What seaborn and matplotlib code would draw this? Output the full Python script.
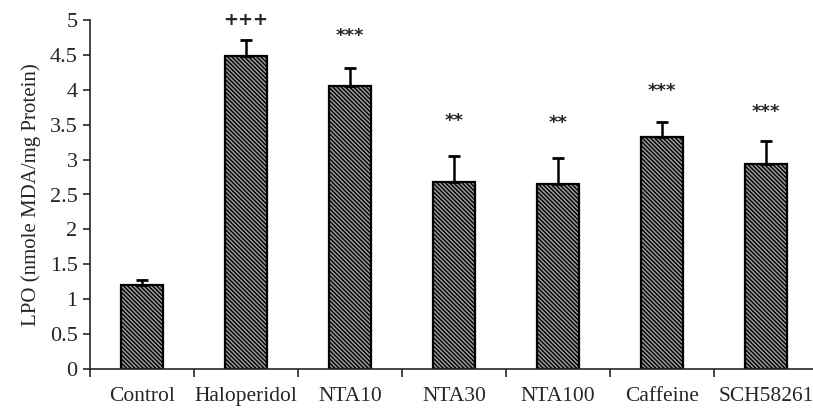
import matplotlib
matplotlib.use('Agg')
import matplotlib.pyplot as plt
import seaborn as sns
import numpy as np

groups = ['Control', 'Haloperidol', 'NTA10', 'NTA30', 'NTA100', 'Caffeine', 'SCH58261']
lpo = [1.21, 4.48, 4.06, 2.68, 2.65, 3.32, 2.94]
sem = [0.07, 0.24, 0.25, 0.37, 0.38, 0.22, 0.32]
marks = ['', '+++', '***', '**', '**', '***', '***']
mark_y = [None, 5.0, 4.77, 3.55, 3.52, 3.98, 3.68]

sns.set_style('ticks')
plt.rcParams['font.family'] = ['Liberation Serif', 'DejaVu Serif']
plt.rcParams['hatch.linewidth'] = 1.0
plt.rcParams['hatch.color'] = '#1a1a1a'

fig = plt.figure(figsize=(8.13, 4.11), dpi=100)
ax = fig.add_axes([90/813, 42/411, 728/813, 349/411])

sns.barplot(x=groups, y=lpo, color='#9a9a9a', width=0.41, saturation=1,
            edgecolor='black', linewidth=1.6, ax=ax)
for p in ax.patches:
    p.set_hatch('\\\\\\\\\\\\\\\\')

xpos = np.arange(len(groups))
ax.errorbar(xpos, lpo, yerr=[np.zeros(len(sem)), sem], fmt='none',
            ecolor='black', elinewidth=1.8, capsize=4, capthick=2)

for i, m in enumerate(marks):
    if m:
        ax.text(i, mark_y[i], m, ha='center', va='center', fontsize=13,
                fontweight='bold', family='DejaVu Sans')

ax.set_ylim(0, 5)
ax.set_xlim(-0.5, len(groups) - 0.5)
ax.set_yticks(np.arange(0, 5.01, 0.5))
ax.set_yticklabels(['0', '0.5', '1', '1.5', '2', '2.5', '3', '3.5', '4', '4.5', '5'])
ax.set_ylabel('LPO (nmole MDA/mg Protein)', fontsize=15, labelpad=6)
ax.tick_params(axis='y', labelsize=16, length=5, width=1.2, direction='out', pad=4)
ax.tick_params(axis='x', which='major', labelsize=15.5, length=0, pad=13)
ax.set_xticks(np.arange(-0.5, len(groups), 1.0), minor=True)
ax.tick_params(axis='x', which='minor', length=6, width=1.2, direction='out')
sns.despine(ax=ax)
ax.spines['left'].set_linewidth(1.2)
ax.spines['bottom'].set_linewidth(1.2)

plt.savefig('out.png', dpi=100)
